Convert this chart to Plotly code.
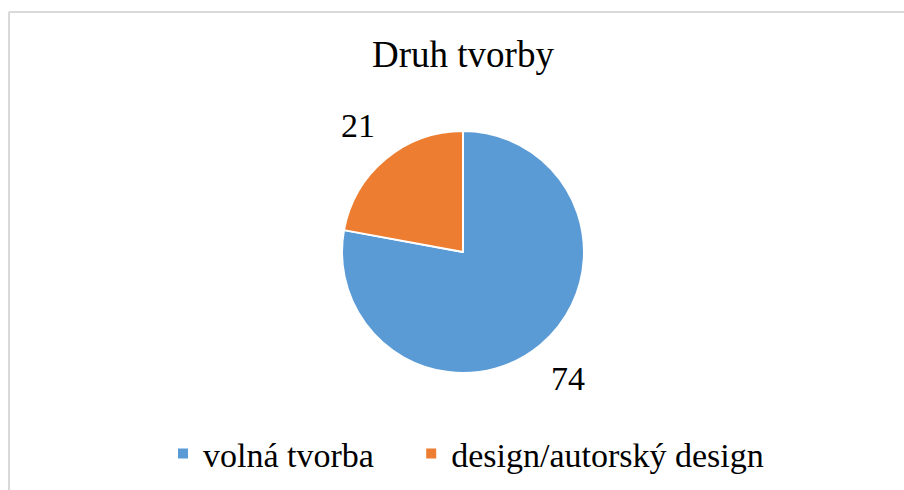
import math
import plotly.graph_objects as go

labels = ["volná tvorba", "design/autorský design"]
values = [74, 21]
colors = ["#5B9BD5", "#ED7D31"]
title_text = "Druh tvorby"

W, H = 904, 490
FONT = "Liberation Serif, Times New Roman, serif"

# pie geometry in pixels
cx, cy, r = 463, 252, 121

# extra trailing non-breaking space so legend entries are spaced like the original
legend_labels = [labels[0] + "\u00a0" * 3 + "\u2009", labels[1]]

fig = go.Figure()
fig.add_trace(go.Pie(
    labels=legend_labels, values=values, sort=False, direction="clockwise", rotation=0,
    marker=dict(colors=colors, line=dict(color="white", width=2)),
    textinfo="none", hoverinfo="label+value",
    domain=dict(x=[(cx - r) / W, (cx + r) / W], y=[(H - cy - r) / H, (H - cy + r) / H]),
))

# data labels placed outside each slice at its mid-angle
total = sum(values)
cum = 0
annotations = []
for v in values:
    mid = (cum + v / 2) / total * 2 * math.pi
    cum += v
    R = r * 1.36
    px = cx + R * math.sin(mid)
    py = cy - R * math.cos(mid)
    annotations.append(dict(
        x=px / W, y=(H - py) / H, xref="paper", yref="paper",
        text=str(v), showarrow=False, xanchor="center", yanchor="middle",
        font=dict(family=FONT, size=34, color="#000000"),
    ))

bx, by = 9, 12
shapes = [
    dict(type="line", xref="paper", yref="paper", x0=bx / W, x1=1.01, y0=(H - by) / H, y1=(H - by) / H,
         line=dict(color="#D9D9D9", width=2)),
    dict(type="line", xref="paper", yref="paper", x0=bx / W, x1=bx / W, y0=(H - by) / H, y1=-0.01,
         line=dict(color="#D9D9D9", width=2)),
]

fig.update_layout(
    width=W, height=H,
    margin=dict(l=0, r=0, t=0, b=0),
    paper_bgcolor="white", plot_bgcolor="white",
    font=dict(family=FONT, color="#000000"),
    title=dict(text=title_text, x=463 / W, xanchor="center", y=(H - 54) / H, yanchor="middle",
               xref="paper", yref="paper", font=dict(family=FONT, size=37, color="#000000")),
    showlegend=True,
    legend=dict(orientation="h", x=466 / W, xanchor="center", y=(H - 454) / H, yanchor="middle",
                font=dict(family=FONT, size=34, color="#000000"), bgcolor="rgba(0,0,0,0)"),
    annotations=annotations,
    shapes=shapes,
)

fig.write_html("out.html", config={"displayModeBar": False},
               post_script="document.body.style.margin='0';")
